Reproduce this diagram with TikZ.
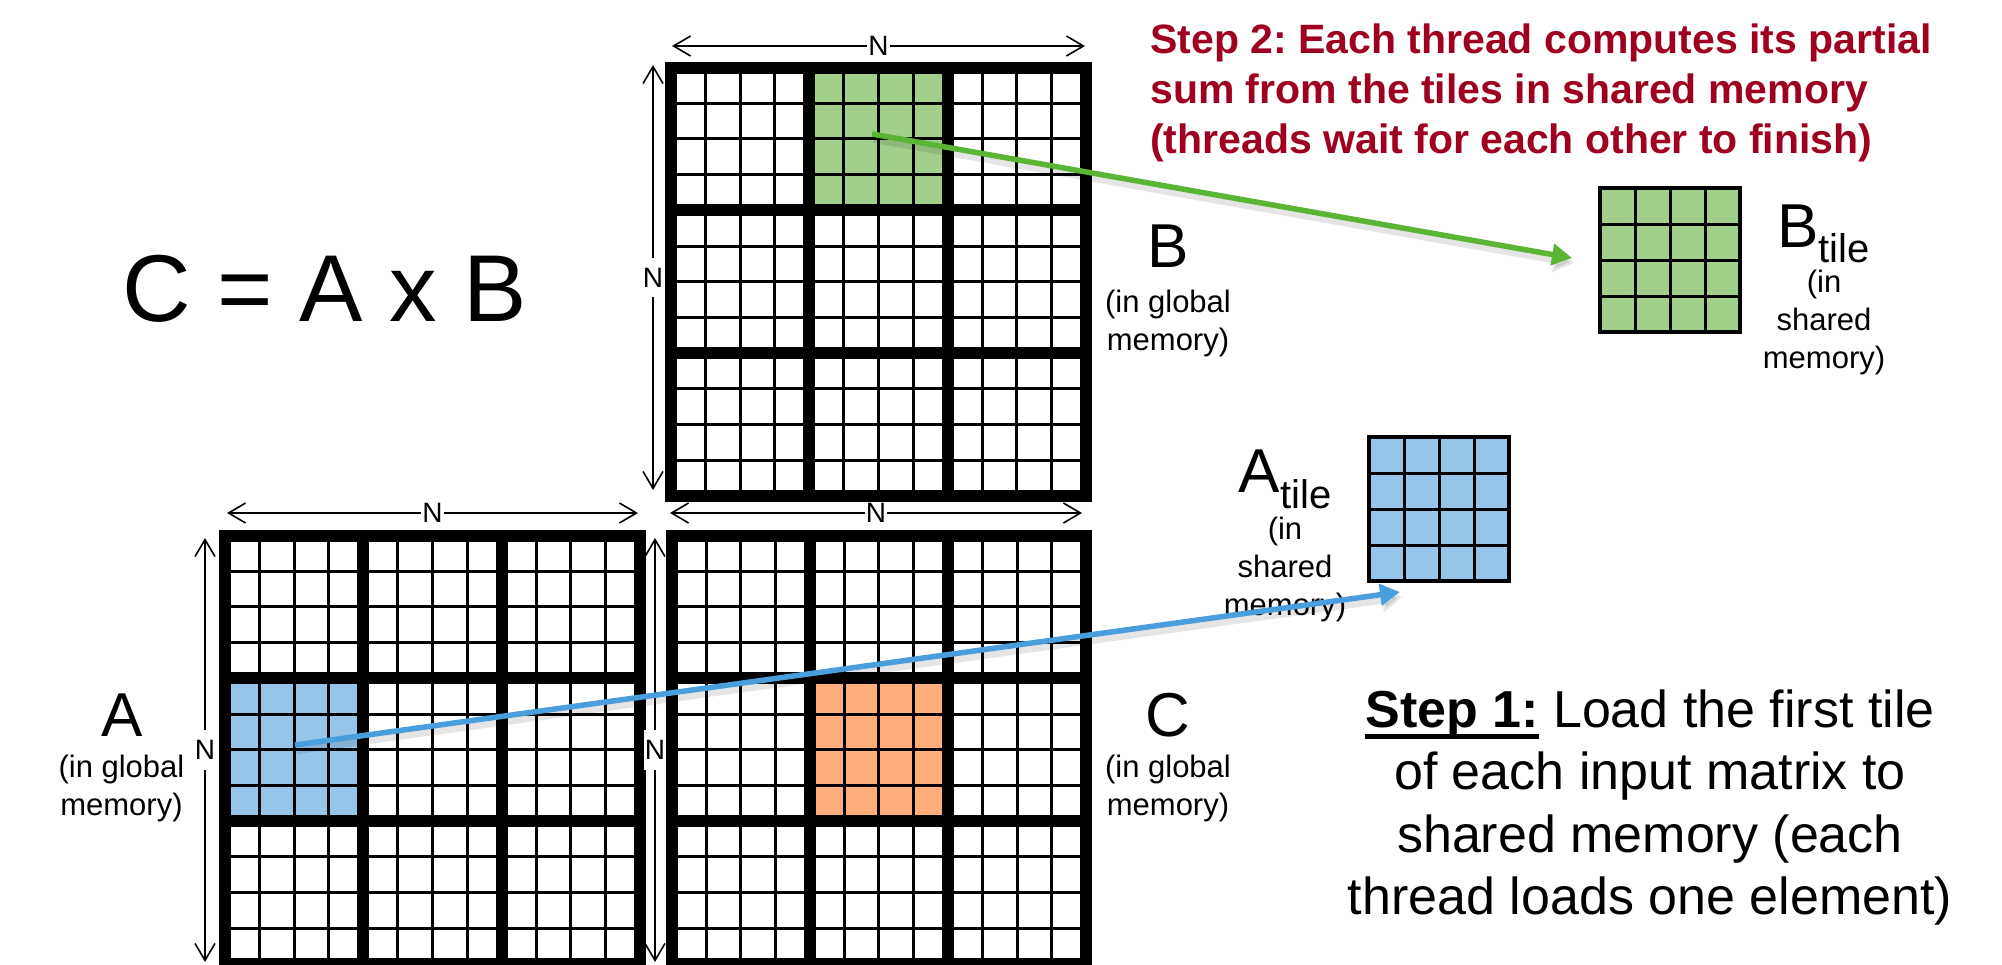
\documentclass[tikz,border=0pt]{standalone}
\usepackage{fontspec}
\setmainfont{Liberation Sans}
\usetikzlibrary{arrows.meta}
\definecolor{tgreen}{HTML}{A0D08A}
\definecolor{tblue}{HTML}{95C6EA}
\definecolor{torange}{HTML}{FFAD7A}
\definecolor{agreen}{HTML}{5AB535}
\definecolor{ablue}{HTML}{4A9EDC}
\definecolor{stepred}{HTML}{A00020}
\frenchspacing
\newcommand{\fsz}[2]{\fontsize{#1}{#2}\selectfont}
\newcommand{\ulbold}[1]{\setbox0\hbox{\bfseries #1}\rlap{\rule[-11.5pt]{\wd0}{4.5pt}}\box0\relax}
\newcommand{\bigmatrix}[5]{%
  \begin{scope}[shift={(#1,#2)}]
    \fill[#3] (#4*138.3,#5*142.8) rectangle ++(138.3,142.8);
    \foreach \k in {1,...,11}{
      \draw[thingrid] (\k*34.575,0) -- (\k*34.575,428.4);
      \draw[thingrid] (0,\k*35.7) -- (414.9,\k*35.7);
    }
    \foreach \k in {1,2}{
      \draw[thickgrid] (\k*138.3,0) -- (\k*138.3,428.4);
      \draw[thickgrid] (0,\k*142.8) -- (414.9,\k*142.8);
    }
    \draw[thickgrid] (0,0) rectangle (414.9,428.4);
  \end{scope}}
\newcommand{\smalltile}[3]{%
  \begin{scope}[shift={(#1,#2)}]
    \fill[#3] (0,0) rectangle (140,144);
    \foreach \k in {1,2,3}{
      \draw[thingrid] (\k*35,0) -- (\k*35,144);
      \draw[thingrid] (0,\k*36) -- (140,\k*36);
    }
    \draw[tileborder] (0,0) rectangle (140,144);
  \end{scope}}
\begin{document}
\begin{tikzpicture}[x=1pt,y=-1pt,
  thingrid/.style={line width=3pt,black},
  thickgrid/.style={line width=12pt,black,line join=miter},
  tileborder/.style={line width=3.5pt,black},
  dimarrow/.style={line width=1.6pt,{Straight Barb[length=17pt,width=20pt]}-{Straight Barb[length=17pt,width=20pt]}},
  nlabel/.style={fill=white,inner xsep=1pt,inner ysep=1pt,font=\fsz{28}{30}},
  nvlabel/.style={fill=white,inner xsep=1pt,inner ysep=10pt,font=\fsz{28}{30}},
  carrow/.style={line width=5.5pt,-{Triangle[length=20pt,width=21pt]}},
  cshadow/.style={line width=8pt,black,opacity=0.10,-{Triangle[length=20pt,width=24pt]}},
  bigletter/.style={anchor=base,font=\fsz{62}{70}},
  subtext/.style={anchor=base,font=\fsz{31}{38}}]
\useasboundingbox (0,0) rectangle (2002,964);
\fill[white] (0,0) rectangle (2002,964);

% big matrices
\bigmatrix{671}{67.5}{tgreen}{1}{0}
\bigmatrix{225}{535.5}{tblue}{0}{1}
\bigmatrix{671.5}{535.5}{torange}{1}{1}

% tiles in shared memory
\smalltile{1600}{188}{tgreen}
\smalltile{1369}{437}{tblue}

% dimension arrows
\coordinate (bt1) at (672,46);   \coordinate (bt2) at (1085,46);
\coordinate (bl1) at (653,65);   \coordinate (bl2) at (653,490);
\coordinate (at1) at (227,513);  \coordinate (at2) at (638,513);
\coordinate (al1) at (205,538);  \coordinate (al2) at (205,962);
\coordinate (ct1) at (670,513);  \coordinate (ct2) at (1082,513);
\coordinate (cl1) at (655,538);  \coordinate (cl2) at (655,962);
\draw[dimarrow] (bt1) -- node[nlabel] (nbt) {N} (bt2);
\draw[dimarrow] (bl1) -- node[nvlabel] (nbl) {N} (bl2);
\draw[dimarrow] (at1) -- node[nlabel] (nat) {N} (at2);
\draw[dimarrow] (al1) -- node[nvlabel] (nal) {N} (al2);
\draw[dimarrow] (ct1) -- node[nlabel] (nct) {N} (ct2);
\draw[dimarrow] (cl1) -- node[nvlabel] (ncl) {N} (cl2);

% labels
\node[anchor=base,font=\fsz{95}{110}] (eq) at (324.5,321) {C = A x B};
\node[bigletter] (labB) at (1168,267) {B};
\node[subtext] (subB) at (1168,312) {\begin{tabular}[t]{@{}c@{}}(in global\\memory)\end{tabular}};
\node[bigletter] (labA) at (122,736) {A};
\node[subtext] (subA) at (121.5,777) {\begin{tabular}[t]{@{}c@{}}(in global\\memory)\end{tabular}};
\node[bigletter] (labC) at (1168,736) {C};
\node[subtext] (subC) at (1168,777) {\begin{tabular}[t]{@{}c@{}}(in global\\memory)\end{tabular}};

\node[bigletter] (labBt) at (1823.7,247) {B\raisebox{-15pt}{\fsz{40}{40}tile}};
\node[subtext] (subBt) at (1824,292) {\begin{tabular}[t]{@{}c@{}}(in\\shared\\memory)\end{tabular}};
\node[bigletter] (labAt) at (1285,492) {A\raisebox{-16.5pt}{\fsz{40}{40}tile}};
\node[subtext] (subAt) at (1285,539) {\begin{tabular}[t]{@{}c@{}}(in\\shared\\memory)\end{tabular}};

\node[anchor=base west,inner sep=0pt,font=\bfseries\fsz{41}{50},text=stepred] (step2) at (1150,53)
  {\begin{tabular}[t]{@{}l@{}}Step 2: Each thread computes its partial\\sum from the tiles in shared memory\\(threads wait for each other to finish)\end{tabular}};
\node[anchor=base,font=\fsz{52}{62.5}] (step1) at (1650,727)
  {\begin{tabular}[t]{@{}c@{}}\ulbold{Step 1:} Load the first tile\\of each input matrix to\\shared memory (each\\thread loads one element)\end{tabular}};

% coloured arrows
\coordinate (gstart) at (872,134);
\coordinate (gend) at (1572,258);
\coordinate (bstart) at (295,745);
\coordinate (bend) at (1400,592);
\draw[cshadow] ([shift={(2,5)}]gstart) -- ([shift={(2,5)}]gend);
\draw[cshadow] ([shift={(2,5)}]bstart) -- ([shift={(2,5)}]bend);
\draw[carrow,agreen] (gstart) -- (gend);
\draw[carrow,ablue] (bstart) -- (bend);
\end{tikzpicture}
\end{document}
